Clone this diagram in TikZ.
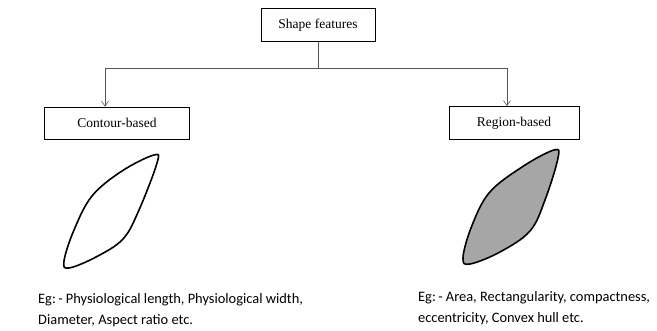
\documentclass[tikz,border=0pt]{standalone}
\usepackage{fontspec}
\setmainfont{Liberation Serif}
\newfontfamily\notefont{Carlito}
\usepackage{tikz}
\usetikzlibrary{arrows.meta,positioning,calc}
\definecolor{linegray}{HTML}{555555}
\definecolor{regionfill}{HTML}{A6A6A6}

\begin{document}
\begin{tikzpicture}[
 x=1pt,y=-1pt,
 box/.style={draw,thick,minimum height=33pt,inner sep=0pt,font=\fontsize{13.5}{15}\selectfont,fill=white},
 arrow/.style={-{Straight Barb[length=5pt,width=7pt]},draw=linegray,semithick},
 link/.style={draw=linegray,semithick},
 blob/.style={line width=1.6pt,line join=round},
 note/.style={anchor=base west,align=left,inner sep=0pt,font=\notefont\fontsize{14.4}{21}\selectfont}
]
\useasboundingbox (0,0) rectangle (657,331);
\node[box,minimum width=114pt] (features) at (318,25) {Shape features};
\node[box,minimum width=145pt,minimum height=32pt] (contour) at (117,123) {Contour-based};
\node[box,minimum width=130pt,minimum height=33pt] (region) at (514,123) {Region-based};
\coordinate (hubL) at (105,68);
\coordinate (hubR) at (507,68);
\draw[link] (features.south) -- (features.south |- hubL);
\draw[link] (hubL) -- (hubR);
\draw[arrow] (hubL) -- (hubL |- contour.north);
\draw[arrow] (hubR) -- (hubR |- region.north);
% shapes
\draw[blob] plot[smooth cycle,tension=0.6] coordinates {(154,155) (122,171) (92,196) (74,230) (64,261) (69,268) (96,257) (123,239) (139,210) (157,163)};
\draw[blob,fill=regionfill] plot[smooth cycle,tension=0.6] coordinates {(554,150) (522,167) (489,193) (471,228) (463,258) (470,264) (500,252) (530,231) (545,200) (558,158)};
% examples (base = last line)
\node[note] (contourEg) at (38,325) {Eg:\,- Physiological\ length, Physiological width,\\Diameter, Aspect ratio etc.};
\node[note] (regionEg) at (418,323) {Eg:\,- Area, Rectangularity, compactness,\\eccentricity, Convex hull etc.};
\end{tikzpicture}
\end{document}
